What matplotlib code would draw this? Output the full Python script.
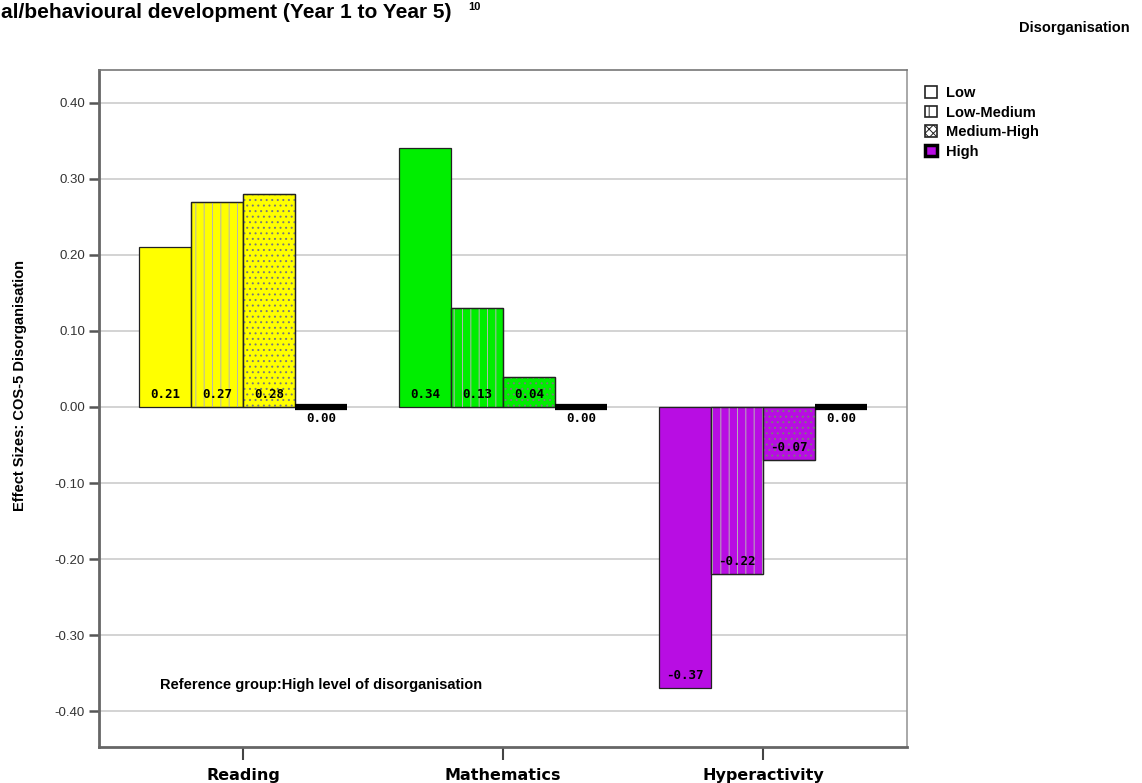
import matplotlib
matplotlib.use("Agg")
import matplotlib.pyplot as plt
from matplotlib.patches import Patch
import numpy as np

# data
outcomes = ["Reading", "Mathematics", "Hyperactivity"]
levels = ["Low", "Low-Medium", "Medium-High", "High"]
low = [0.21, 0.34, -0.37]
low_medium = [0.27, 0.13, -0.22]
medium_high = [0.28, 0.04, -0.07]
high = [0.00, 0.00, 0.00]
yticks = [-0.40, -0.30, -0.20, -0.10, 0.00, 0.10, 0.20, 0.30, 0.40]

group_colors = ["#ffff00", "#00ee00", "#b80de3"]
hatches = [None, "||", "...", None]
hatch_grays = [None, "#b5b5b5", "#7a7a7a", None]

plt.rcParams["font.family"] = ["Liberation Sans", "DejaVu Sans"]
plt.rcParams["hatch.linewidth"] = 0.7

W, H = 1142, 783
fig = plt.figure(figsize=(W / 100, H / 100), dpi=100)
ax = fig.add_axes([99 / W, 1 - 747 / H, (907 - 99) / W, (747 - 70) / H])

x = np.arange(len(outcomes))
width = 0.2
series = [low, low_medium, medium_high, high]

for i, vals in enumerate(series):
    pos = x + (i - 1.5) * width
    if levels[i] == "High":
        ax.bar(pos, vals, width, color=group_colors, edgecolor="black",
               linewidth=4.5, zorder=4)
    else:
        ax.bar(pos, vals, width, color=group_colors, edgecolor="#222222",
               linewidth=0.9, zorder=3)
        if hatches[i]:
            ax.bar(pos, vals, width, facecolor="none",
                   edgecolor=hatch_grays[i], linewidth=0, hatch=hatches[i],
                   zorder=3)
            ax.bar(pos, vals, width, facecolor="none", edgecolor="#222222",
                   linewidth=0.9, zorder=3)
    for p, v in zip(pos, vals):
        if v == 0:
            ax.text(p, -0.007, f"{v:.2f}", ha="center", va="top",
                    fontsize=9, fontweight="bold", family="DejaVu Sans Mono",
                    zorder=5)
        else:
            ax.text(p, min(v, 0) + 0.008, f"{v:.2f}", ha="center",
                    va="bottom", fontsize=9, fontweight="bold",
                    family="DejaVu Sans Mono", zorder=5)

ax.set_xlim(-0.554, 2.554)
ax.set_ylim(-0.447, 0.443)
ax.set_yticks(yticks)
ax.set_yticklabels([f"{t:.2f}" for t in yticks], fontsize=9.5, color="#333333")
ax.set_xticks(x)
ax.set_xticklabels(outcomes, fontsize=11.5, fontweight="bold",
                   family=["Liberation Sans Narrow", "DejaVu Sans"])
ax.tick_params(axis="y", length=7, width=1.8, color="#555555", pad=3)
ax.tick_params(axis="x", length=9, width=1.5, color="#444444", pad=6)
ax.yaxis.grid(True, color="#cccccc", linewidth=1.2, zorder=0)
ax.set_axisbelow(True)

ax.spines["left"].set_linewidth(2)
ax.spines["left"].set_color("#666666")
ax.spines["bottom"].set_linewidth(2)
ax.spines["bottom"].set_color("#666666")
ax.spines["top"].set_linewidth(1.2)
ax.spines["top"].set_color("#777777")
ax.spines["right"].set_linewidth(1.2)
ax.spines["right"].set_color("#999999")

fig.text(160 / W, 1 - 685 / H, "Reference group:High level of disorganisation",
         fontsize=10.5, fontweight="bold", va="center", ha="left")

fig.text(20 / W, 1 - 385 / H, "Effect Sizes: COS-5 Disorganisation",
         rotation=90, ha="center", va="center", fontsize=10.5,
         fontweight="bold")

# title (only the tail is visible in the source)
fig.text(1 / W, 1 - 18 / H, "al/behavioural development (Year 1 to Year 5)",
         ha="left", va="baseline", fontsize=15, fontweight="bold")
fig.text(468 / W, 1 - 10 / H, "10", ha="left", va="baseline", fontsize=8,
         fontweight="bold")

fig.text(1130 / W, 1 - 28 / H, "Disorganisation", ha="right", va="center",
         fontsize=10.5, fontweight="bold")

handles = [
    Patch(facecolor="white", edgecolor="#222222", linewidth=1.2),
    Patch(facecolor="white", edgecolor="#222222", linewidth=1.2, hatch="||"),
    Patch(facecolor="white", edgecolor="#222222", linewidth=1.2, hatch="xxxx"),
    Patch(facecolor=group_colors[2], edgecolor="black", linewidth=2.5),
]
fig.legend(handles, levels, loc="upper left",
           bbox_to_anchor=(925 / W, 1 - 86 / H), frameon=False,
           prop={"size": 10.5, "weight": "bold"}, handlelength=0.85,
           handleheight=0.85, handletextpad=0.6, labelspacing=0.38,
           borderaxespad=0, borderpad=0)

fig.savefig("out.png", dpi=100)
